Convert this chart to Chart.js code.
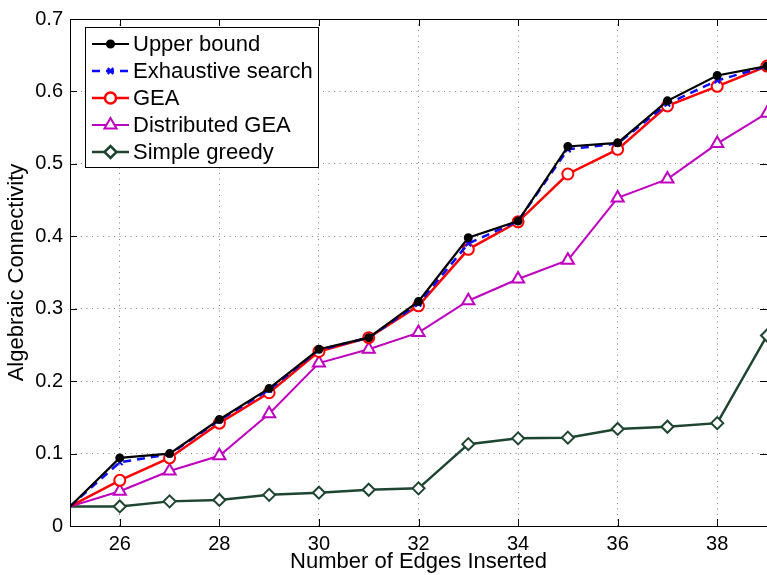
<!DOCTYPE html>
<html lang="en">
<head>
    <meta charset="UTF-8" />
    <title>Algebraic Connectivity vs Edges Inserted</title>
    <script src="https://cdn.jsdelivr.net/npm/chart.js@4"></script>
    <style>
        html, body { margin: 0; padding: 0; background: #fff; }
        canvas { display: block; }
    </style>
</head>
<body>
<canvas id="connChart" width="767" height="575"></canvas>
<script>
    // data
    const edges = [25, 26, 27, 28, 29, 30, 31, 32, 33, 34, 35, 36, 37, 38, 39];
    const xTicks = [26, 28, 30, 32, 34, 36, 38];
    const yTicks = [0, 0.1, 0.2, 0.3, 0.4, 0.5, 0.6, 0.7];

    const upperBound = [0.027, 0.094, 0.100, 0.147, 0.190, 0.244, 0.260, 0.310, 0.398, 0.421, 0.524, 0.529, 0.587, 0.622, 0.635];
    const exhaustive = [0.027, 0.088, 0.099, 0.146, 0.188, 0.243, 0.260, 0.307, 0.390, 0.421, 0.520, 0.528, 0.583, 0.615, 0.635];
    const gea        = [0.027, 0.063, 0.094, 0.142, 0.184, 0.241, 0.260, 0.304, 0.382, 0.420, 0.486, 0.520, 0.580, 0.607, 0.635];
    const distGea    = [0.027, 0.048, 0.076, 0.097, 0.155, 0.225, 0.244, 0.267, 0.311, 0.341, 0.367, 0.453, 0.479, 0.528, 0.570];
    const greedy     = [0.027, 0.027, 0.034, 0.036, 0.043, 0.046, 0.050, 0.052, 0.113, 0.121, 0.122, 0.134, 0.137, 0.142, 0.263];

    const FONT = '"Liberation Sans", Arial, Helvetica, sans-serif';

    function pts(arr) {
        return arr.map((v, i) => ({ x: edges[i], y: v }));
    }

    // box, inward ticks and the legend inside the plot (MATLAB look)
    const matlabFrame = {
        id: 'matlabFrame',
        afterDraw(chart) {
            const ctx = chart.ctx;
            const a = chart.chartArea;
            const xs = chart.scales.x, ys = chart.scales.y;
            ctx.save();
            ctx.strokeStyle = '#000';
            ctx.lineWidth = 1;
            ctx.beginPath();
            ctx.moveTo(a.left + 0.5, a.top + 0.5);
            ctx.lineTo(a.right + 0.5, a.top + 0.5);
            ctx.lineTo(a.right + 0.5, a.bottom + 0.5);
            ctx.lineTo(a.left + 0.5, a.bottom + 0.5);
            ctx.closePath();
            ctx.stroke();
            const tl = 7;
            ctx.beginPath();
            xTicks.forEach(v => {
                const px = Math.round(xs.getPixelForValue(v)) + 0.5;
                ctx.moveTo(px, a.bottom); ctx.lineTo(px, a.bottom - tl);
                ctx.moveTo(px, a.top); ctx.lineTo(px, a.top + tl);
            });
            yTicks.forEach(v => {
                const py = Math.round(ys.getPixelForValue(v)) + 0.5;
                ctx.moveTo(a.left, py); ctx.lineTo(a.left + tl, py);
                ctx.moveTo(a.right, py); ctx.lineTo(a.right - tl, py);
            });
            ctx.stroke();

            // legend
            const bx = 85, by = 27, bw = 233, bh = 140;
            ctx.fillStyle = '#fff';
            ctx.fillRect(bx, by, bw, bh);
            ctx.strokeRect(bx + 0.5, by + 0.5, bw, bh);
            ctx.font = '22px ' + FONT;
            ctx.textBaseline = 'middle';
            chart.data.datasets.forEach((ds, i) => {
                const y = 44 + i * 27;
                ctx.save();
                ctx.strokeStyle = ds.borderColor;
                ctx.lineWidth = ds.borderWidth;
                ctx.setLineDash(ds.borderDash || []);
                ctx.beginPath();
                ctx.moveTo(92, y); ctx.lineTo(129, y);
                ctx.stroke();
                ctx.setLineDash([]);
                ctx.strokeStyle = ds.pointBorderColor;
                ctx.fillStyle = ds.pointBackgroundColor;
                Chart.helpers.drawPoint(ctx, {
                    pointStyle: ds.pointStyle,
                    radius: ds.markerSize,
                    borderWidth: ds.pointBorderWidth,
                    rotation: 0
                }, 110.5, y);
                ctx.restore();
                ctx.fillStyle = '#000';
                ctx.fillText(ds.label, 133, y + 1);
            });
            ctx.restore();
        }
    };

    function series(label, data, color, style, radius, fill, dash, width) {
        return {
            label: label,
            data: pts(data),
            borderColor: color,
            borderWidth: width || 2.5,
            borderDash: dash || [],
            pointStyle: style,
            markerSize: radius,
            // the first point sits on the axis and has no marker in the figure
            pointRadius: c => (c.dataIndex === 0 ? 0 : radius),
            pointBorderColor: color,
            pointBackgroundColor: fill ? color : '#fff',
            pointBorderWidth: 2,
            tension: 0
        };
    }

    new Chart(document.getElementById('connChart').getContext('2d'), {
        type: 'line',
        data: {
            datasets: [
                series('Upper bound', upperBound, '#000000', 'circle', 3.5, true, null, 2.2),
                series('Exhaustive search', exhaustive, '#0a0aff', 'crossRot', 4, false, [8, 6], 2.5),
                series('GEA', gea, '#ff0000', 'circle', 5.5, false, null, 2.5),
                series('Distributed GEA', distGea, '#bf00bf', 'triangle', 7, false, null, 2),
                series('Simple greedy', greedy, '#1e4530', 'rectRot', 6, false, null, 2.5)
            ]
        },
        options: {
            responsive: false,
            animation: false,
            layout: { autoPadding: false, padding: { top: 13, right: 0, left: 0, bottom: 0 } },
            plugins: {
                legend: { display: false },
                tooltip: { enabled: false }
            },
            scales: {
                x: {
                    type: 'linear',
                    min: 25,
                    max: 39,
                    afterBuildTicks: s => { s.ticks = xTicks.map(v => ({ value: v })); },
                    afterFit: s => { s.height = 49; },
                    grid: { color: '#808080', lineWidth: 1, drawTicks: false },
                    border: { display: false, dash: [1, 4.5] },
                    ticks: { color: '#000', padding: 6, font: { family: FONT, size: 20 }, maxRotation: 0 },
                    title: {
                        display: true,
                        text: 'Number of Edges Inserted',
                        color: '#000',
                        font: { family: FONT, size: 22 },
                        padding: { top: 0, bottom: 0 }
                    }
                },
                y: {
                    min: 0,
                    max: 0.7,
                    afterBuildTicks: s => { s.ticks = yTicks.map(v => ({ value: v })); },
                    afterFit: s => { s.width = 70; },
                    grid: { color: '#808080', lineWidth: 1, drawTicks: false },
                    border: { display: false, dash: [1, 4.5] },
                    ticks: {
                        color: '#000',
                        padding: 7,
                        font: { family: FONT, size: 20 },
                        callback: v => String(Math.round(v * 10) / 10)
                    },
                    title: {
                        display: true,
                        text: 'Algebraic Connectivity',
                        color: '#000',
                        font: { family: FONT, size: 22 },
                        padding: { top: 4, bottom: 0 }
                    }
                }
            }
        },
        plugins: [matlabFrame]
    });
</script>
</body>
</html>
